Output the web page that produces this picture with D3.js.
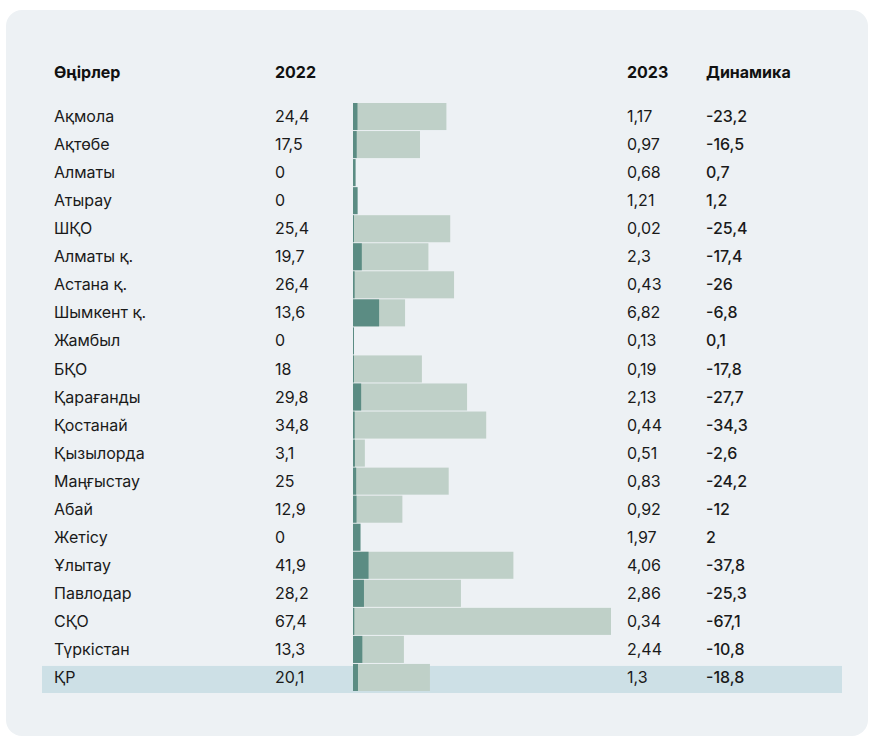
<!DOCTYPE html>
<html>
<head>
<meta charset="utf-8">
<script src="https://cdn.jsdelivr.net/npm/d3@7"></script>
<style>
  html, body { margin: 0; padding: 0; background: #fff; }
  svg { display: block; font-family: Inter, "Noto Sans", sans-serif; }
</style>
</head>
<body>
<svg id="chart" width="870" height="738"></svg>
<script>
// data
const regions = ['Ақмола', 'Ақтөбе', 'Алматы', 'Атырау', 'ШҚО', 'Алматы қ.', 'Астана қ.', 'Шымкент қ.',
  'Жамбыл', 'БҚО', 'Қарағанды', 'Қостанай', 'Қызылорда', 'Маңғыстау', 'Абай', 'Жетісу',
  'Ұлытау', 'Павлодар', 'СҚО', 'Түркістан', 'ҚР'];
const v2022 = [24.4, 17.5, 0, 0, 25.4, 19.7, 26.4, 13.6, 0, 18, 29.8, 34.8, 3.1, 25, 12.9, 0, 41.9, 28.2, 67.4, 13.3, 20.1];
const v2023 = [1.17, 0.97, 0.68, 1.21, 0.02, 2.3, 0.43, 6.82, 0.13, 0.19, 2.13, 0.44, 0.51, 0.83, 0.92, 1.97, 4.06, 2.86, 0.34, 2.44, 1.3];
const dynamics = [-23.2, -16.5, 0.7, 1.2, -25.4, -17.4, -26, -6.8, 0.1, -17.8, -27.7, -34.3, -2.6, -24.2, -12, 2, -37.8, -25.3, -67.1, -10.8, -18.8];
const headers = ['Өңірлер', '2022', '2023', 'Динамика'];

const colBg = '#edf1f4';
const colLight = '#bfd0c8';
const colDark = '#5b8c83';
const colHighlight = '#cde0e6';

const svg = d3.select('#chart');
const fmt = v => String(v).replace('.', ',');

// card
svg.append('rect')
  .attr('x', 6).attr('y', 10)
  .attr('width', 862).attr('height', 726)
  .attr('rx', 16)
  .attr('fill', colBg);

const y = d3.scaleBand()
  .domain(d3.range(regions.length))
  .range([103, 103 + 28 * regions.length])
  .paddingInner(1 / 28);

const x = d3.scaleLinear()
  .domain([0, d3.max(v2022)])
  .range([353, 611]);

const cols = { name: 54, v22: 275, v23: 627, dyn: 706 };

// header
const hx = [cols.name, cols.v22, cols.v23, cols.dyn];
svg.selectAll('text.header')
  .data(headers)
  .join('text')
  .attr('class', 'header')
  .attr('x', (d, i) => hx[i])
  .attr('y', 72)
  .attr('dy', '0.35em')
  .attr('font-size', 16)
  .attr('font-weight', 700)
  .attr('fill', '#111')
  .text(d => d);

// highlight for total row
const last = regions.length - 1;
svg.append('rect')
  .attr('x', 42).attr('width', 800)
  .attr('y', y(last) + 2)
  .attr('height', y.bandwidth())
  .attr('fill', colHighlight);

const rows = svg.selectAll('g.row')
  .data(regions)
  .join('g')
  .attr('class', 'row')
  .attr('transform', (d, i) => `translate(0,${y(i)})`);

rows.append('rect')
  .attr('x', x(0))
  .attr('width', (d, i) => x(v2022[i]) - x(0))
  .attr('height', y.bandwidth())
  .attr('fill', colLight);

rows.append('rect')
  .attr('x', x(0))
  .attr('width', (d, i) => Math.max(1, x(v2023[i]) - x(0)))
  .attr('height', y.bandwidth())
  .attr('fill', colDark);

const cy = y.bandwidth() / 2;
function cell(xPos, getText, weight) {
  rows.append('text')
    .attr('x', xPos)
    .attr('y', cy)
    .attr('dy', '0.35em')
    .attr('font-size', 16)
    .attr('font-weight', weight)
    .attr('fill', '#1a1a1a')
    .text(getText);
}
cell(cols.name, d => d, 400);
cell(cols.v22, (d, i) => fmt(v2022[i]), 400);
cell(cols.v23, (d, i) => fmt(v2023[i]), 400);
cell(cols.dyn, (d, i) => fmt(dynamics[i]), 500);
</script>
</body>
</html>
